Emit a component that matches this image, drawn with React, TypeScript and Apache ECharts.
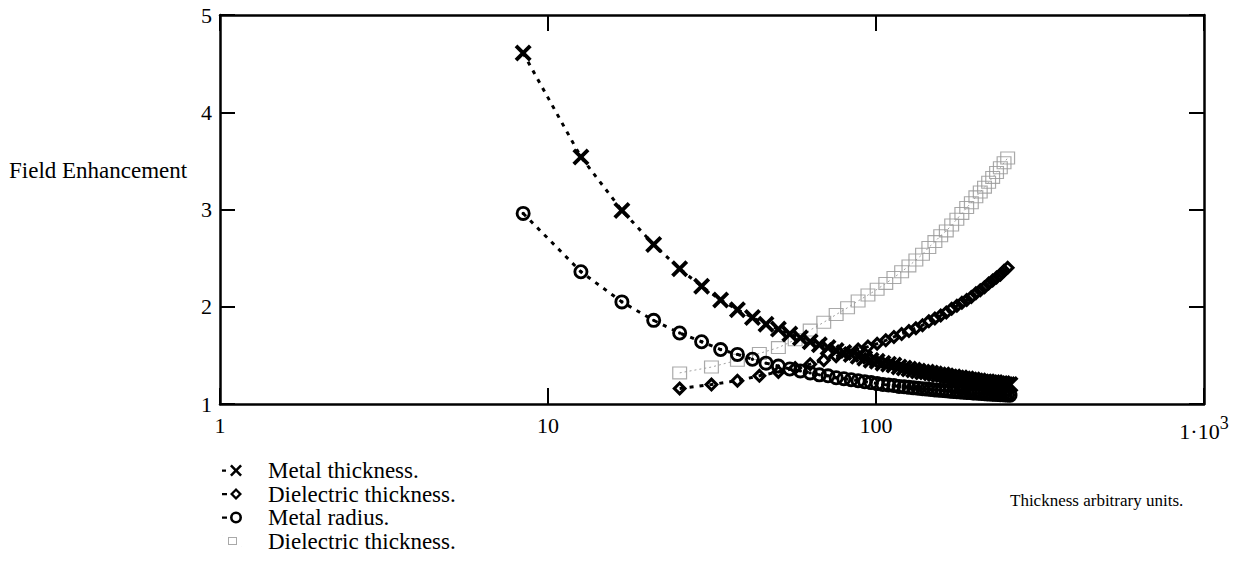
import React, { useEffect, useRef } from "react";
import * as echarts from "echarts";

// ---- data ----
const metalX = [
  8.4, 12.6, 16.8, 21.0, 25.2, 29.4, 33.6, 37.8, 42.0, 46.2, 50.4, 54.6, 58.8, 63.0, 67.2, 71.4, 75.6, 79.8, 84.0, 88.2,
  92.4, 96.6, 100.8, 105.0, 109.2, 113.4, 117.6, 121.8, 126.0, 130.2, 134.4, 138.6, 142.8, 147.0, 151.2, 155.4, 159.6,
  163.8, 168.0, 172.2, 176.4, 180.6, 184.8, 189.0, 193.2, 197.4, 201.6, 205.8, 210.0, 214.2, 218.4, 222.6, 226.8, 231.0,
  235.2, 239.4, 243.6, 247.8, 252.0, 256.2,
];
const metalThicknessY = [
  4.61, 3.54, 2.99, 2.64, 2.39, 2.21, 2.07, 1.97, 1.89, 1.82, 1.77, 1.72, 1.68, 1.64, 1.61, 1.58, 1.55, 1.53, 1.51, 1.49,
  1.47, 1.45, 1.44, 1.42, 1.41, 1.4, 1.38, 1.37, 1.36, 1.35, 1.34, 1.33, 1.33, 1.32, 1.31, 1.3, 1.3,
  1.29, 1.28, 1.28, 1.27, 1.27, 1.26, 1.26, 1.25, 1.25, 1.24, 1.24, 1.23, 1.23, 1.23, 1.22, 1.22, 1.22,
  1.21, 1.21, 1.21, 1.2, 1.2, 1.2,
];
const metalRadiusY = [
  2.96, 2.36, 2.05, 1.86, 1.73, 1.64, 1.56, 1.51, 1.46, 1.42, 1.39, 1.36, 1.34, 1.32, 1.3, 1.29, 1.27, 1.26, 1.25, 1.24,
  1.23, 1.22, 1.21, 1.2, 1.195, 1.19, 1.18, 1.177, 1.171, 1.166, 1.162, 1.157, 1.153, 1.149, 1.145, 1.142, 1.139,
  1.135, 1.132, 1.129, 1.127, 1.124, 1.121, 1.119, 1.117, 1.114, 1.112, 1.11, 1.108, 1.106, 1.104, 1.103, 1.101, 1.099,
  1.098, 1.096, 1.095, 1.093, 1.092, 1.091,
];
const dielectricX = [
  25.2, 31.5, 37.8, 44.1, 50.4, 56.7, 63.0, 69.3, 75.6, 81.9, 88.2, 94.5, 100.8, 107.1, 113.4, 119.7, 126.0, 132.3,
  138.6, 144.9, 151.2, 157.5, 163.8, 170.1, 176.4, 182.7, 189.0, 195.3, 201.6, 207.9, 214.2, 220.5, 226.8, 233.1, 239.4,
  245.7, 252.0,
];
const dielectricY = [
  1.16, 1.2, 1.24, 1.29, 1.33, 1.37, 1.41, 1.45, 1.49, 1.52, 1.56, 1.59, 1.62, 1.655, 1.69, 1.72, 1.75, 1.78,
  1.81, 1.85, 1.88, 1.91, 1.94, 1.98, 2.01, 2.04, 2.07, 2.1, 2.14, 2.17, 2.2, 2.24, 2.27, 2.3, 2.33,
  2.37, 2.4,
];
const dielectric2Y = [
  1.32, 1.38, 1.45, 1.52, 1.58, 1.66, 1.76, 1.84, 1.92, 1.99, 2.06, 2.12, 2.18, 2.24, 2.3, 2.36, 2.42, 2.48,
  2.54, 2.61, 2.67, 2.73, 2.78, 2.84, 2.9, 2.96, 3.02, 3.07, 3.13, 3.18, 3.23, 3.28, 3.33, 3.38, 3.43,
  3.48, 3.53,
];
const seriesNames = ["Metal thickness.", "Dielectric thickness.", "Metal radius.", "Dielectric thickness. "];
const xTickValues = [1, 10, 100, 1000];
const xTickLabels = ["1", "10", "100", "1·10{sup|3}"];
const yAxisTitle = "Field Enhancement";
const xAxisTitle = "Thickness arbitrary units.";

// ---- symbols ----
const crossSym = "path://M0,1.6L1.6,0L5,3.4L8.4,0L10,1.6L6.6,5L10,8.4L8.4,10L5,6.6L1.6,10L0,8.4L3.4,5Z";
const diamondSym = "path://M5,0L10,5L5,10L0,5Z M5,2.9L2.9,5L5,7.1L7.1,5Z";
const circleSym =
  "path://M0,5A5,5 0 1,1 10,5A5,5 0 1,1 0,5Z M1.9,5A3.1,3.1 0 1,0 8.1,5A3.1,3.1 0 1,0 1.9,5Z M3.9,5A1.1,1.1 0 1,1 6.1,5A1.1,1.1 0 1,1 3.9,5Z";
const rectSym = "path://M0,0H10V10H0Z M0.8,0.8V9.2H9.2V0.8Z";

const crossIcon =
  "path://M0,5H4V7.2H0Z M8,1.8L9.8,0L14,4.2L18.2,0L20,1.8L15.8,6L20,10.2L18.2,12L14,7.8L9.8,12L8,10.2L12.2,6Z";
const diamondIcon = "path://M0,5H5V7.2H0Z M14,0L20,6L14,12L8,6Z M14,3.2L11.2,6L14,8.8L16.8,6Z";
const circleIcon =
  "path://M0,5H5V7.2H0Z M8,6A6,6 0 1,1 20,6A6,6 0 1,1 8,6Z M10.6,6A3.4,3.4 0 1,0 17.4,6A3.4,3.4 0 1,0 10.6,6Z";
const rectIcon =
  "path://M0,0H0.3V0.3H0Z M19.7,11.7H20V12H19.7Z M6,2H15V10H6Z M7,3V9H14V3Z";

const FONT = "Liberation Serif";

export default function App() {
  const ref = useRef<HTMLDivElement>(null);
  useEffect(() => {
    const chart = echarts.init(ref.current as HTMLDivElement, null, { renderer: "svg" });
    const pair = (xs: number[], ys: number[]) => xs.map((x, i) => [x, ys[i]]);
    const axisLine = { show: true, lineStyle: { color: "#000", width: 2.5 } };
    const tick = { show: true, inside: true, length: 16, lineStyle: { color: "#000", width: 2 } };
    const option: any = {
      animation: false,
      backgroundColor: "#fff",
      grid: { left: 220, top: 15, width: 984, height: 389, show: false },
      xAxis: [
        {
          type: "log",
          logBase: 10,
          min: 1,
          max: 1000,
          position: "bottom",
          axisLine,
          axisTick: tick,
          minorTick: { show: false },
          splitLine: { show: false },
          axisLabel: {
            margin: 10,
            fontFamily: FONT,
            fontSize: 22,
            color: "#000",
            formatter: (v: number) => {
              const i = xTickValues.indexOf(Math.round(v));
              return i >= 0 ? xTickLabels[i] : "";
            },
            rich: { sup: { fontFamily: FONT, fontSize: 18, color: "#000", padding: [0, 0, 16, 0] } },
          },
        },
        {
          type: "log",
          logBase: 10,
          min: 1,
          max: 1000,
          position: "top",
          axisLine,
          axisTick: tick,
          axisLabel: { show: false },
          splitLine: { show: false },
        },
      ],
      yAxis: [
        {
          type: "value",
          min: 1,
          max: 5,
          interval: 1,
          position: "left",
          axisLine,
          axisTick: { ...tick, length: 15 },
          splitLine: { show: false },
          axisLabel: { margin: 8, fontFamily: FONT, fontSize: 22, color: "#000" },
        },
        {
          type: "value",
          min: 1,
          max: 5,
          interval: 1,
          position: "right",
          axisLine,
          axisTick: { ...tick, length: 15 },
          splitLine: { show: false },
          axisLabel: { show: false },
        },
      ],
      legend: {
        orient: "vertical",
        left: 222,
        top: 459,
        itemWidth: 20,
        itemHeight: 12,
        itemGap: 0.5,
        padding: 0,
        selectedMode: false,
        textStyle: { fontFamily: FONT, fontSize: 23, color: "#000", padding: [0, 0, 0, 21], lineHeight: 23 },
        data: [
          { name: seriesNames[0], icon: crossIcon },
          { name: seriesNames[1], icon: diamondIcon },
          { name: seriesNames[2], icon: circleIcon },
          { name: seriesNames[3], icon: rectIcon },
        ],
      },
      graphic: [
        {
          type: "text",
          left: 9,
          top: 159,
          style: { text: yAxisTitle, fontFamily: FONT, fontSize: 23, fill: "#000" },
        },
        {
          type: "text",
          left: 1010,
          top: 492,
          style: { text: xAxisTitle, fontFamily: FONT, fontSize: 17, fill: "#000" },
        },
      ],
      series: [
        {
          name: seriesNames[3],
          type: "line",
          data: pair(dielectricX, dielectric2Y),
          symbol: rectSym,
          symbolSize: [15, 13],
          itemStyle: { color: "#9a9a9a", opacity: 0.85 },
          lineStyle: { color: "#a0a0a0", width: 1, type: [2, 3] },
          z: 1,
        },
        {
          name: seriesNames[2],
          type: "line",
          data: pair(metalX, metalRadiusY),
          symbol: circleSym,
          symbolSize: 15,
          itemStyle: { color: "#000" },
          lineStyle: { color: "#000", width: 3, type: [4, 6] },
          z: 2,
        },
        {
          name: seriesNames[1],
          type: "line",
          data: pair(dielectricX, dielectricY),
          symbol: diamondSym,
          symbolSize: 15,
          itemStyle: { color: "#000" },
          lineStyle: { color: "#000", width: 3, type: [4, 6] },
          z: 3,
        },
        {
          name: seriesNames[0],
          type: "line",
          data: pair(metalX, metalThicknessY),
          symbol: crossSym,
          symbolSize: 17,
          itemStyle: { color: "#000" },
          lineStyle: { color: "#000", width: 3, type: [4, 6] },
          z: 4,
        },
      ],
    };
    chart.setOption(option);
    return () => chart.dispose();
  }, []);
  return (
    <div
      ref={ref}
      style={{ position: "fixed", left: 0, top: 0, width: 1236, height: 576, background: "#fff" }}
    />
  );
}
